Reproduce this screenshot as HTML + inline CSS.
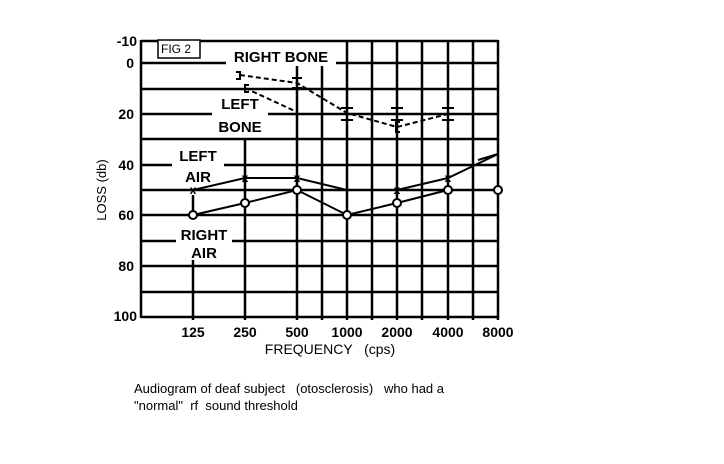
<!DOCTYPE html>
<html><head><style>
body{margin:0;background:#fff;}
svg text{font-family:"Liberation Sans",Arial,sans-serif;font-weight:bold;fill:#000;}
</style></head><body>
<svg width="724" height="459" viewBox="0 0 724 459" xmlns="http://www.w3.org/2000/svg">
<rect width="724" height="459" fill="#fff"/>
<g stroke="#000" stroke-width="2.5" fill="none">
<line x1="141" y1="41" x2="498" y2="41"/>
<line x1="141" y1="63" x2="498" y2="63"/>
<line x1="141" y1="89" x2="498" y2="89"/>
<line x1="141" y1="114" x2="498" y2="114"/>
<line x1="141" y1="139" x2="498" y2="139"/>
<line x1="141" y1="165" x2="498" y2="165"/>
<line x1="141" y1="190" x2="498" y2="190"/>
<line x1="141" y1="215" x2="498" y2="215"/>
<line x1="141" y1="241" x2="498" y2="241"/>
<line x1="141" y1="266" x2="498" y2="266"/>
<line x1="141" y1="292" x2="498" y2="292"/>
<line x1="141" y1="317" x2="498" y2="317"/>
<line x1="141" y1="40" x2="141" y2="318"/>
<line x1="193" y1="195" x2="193" y2="212"/>
<line x1="193" y1="260" x2="193" y2="320"/>
<line x1="245" y1="140" x2="245" y2="320"/>
<line x1="297" y1="63" x2="297" y2="320"/>
<line x1="322" y1="63" x2="322" y2="320"/>
<line x1="347" y1="40" x2="347" y2="320"/>
<line x1="372" y1="40" x2="372" y2="320"/>
<line x1="397" y1="40" x2="397" y2="320"/>
<line x1="422" y1="40" x2="422" y2="320"/>
<line x1="448" y1="40" x2="448" y2="320"/>
<line x1="473" y1="40" x2="473" y2="320"/>
<line x1="498" y1="40" x2="498" y2="320"/>
</g>
<rect x="226" y="46" width="110" height="20" fill="#fff"/>
<rect x="212" y="93" width="56" height="44" fill="#fff"/>
<rect x="172" y="146" width="52" height="40" fill="#fff"/>
<rect x="176" y="224" width="56" height="36" fill="#fff"/>
<rect x="158" y="40" width="42" height="18" fill="#fff" stroke="#000" stroke-width="1.5"/>
<text x="161" y="53" font-size="12" style="font-weight:normal">FIG 2</text>
<g font-size="15" text-anchor="middle">
<text x="281" y="62">RIGHT BONE</text>
<text x="240" y="109">LEFT</text>
<text x="240" y="132">BONE</text>
<text x="198" y="161">LEFT</text>
<text x="198" y="182">AIR</text>
<text x="204" y="240">RIGHT</text>
<text x="204" y="258">AIR</text>
</g>
<g stroke="#000" stroke-width="2" fill="none" stroke-dasharray="5,3">
<polyline points="240,75 297,83 347,113 397,127 448,114"/>
<polyline points="245,88 297,112"/>
</g>
<g stroke="#000" stroke-width="2" fill="none">
<path d="M236,72h4v7h-4"/>
<path d="M249,85h-4v7h4"/>
<path d="M292,78h10M292,88h10M297,78v10"/>
<path d="M341,108h12M341,120h12M347,108v12"/>
<path d="M391,108h12M391,120h12M397,108v12"/>
<path d="M442,108h12M442,120h12M448,108v12"/>
<path d="M400,122h-4v10h4"/>
</g>
<polyline points="193,190 245,178 297,178 347,190" stroke="#000" stroke-width="2" fill="none"/>
<polyline points="397,190 448,178 498,154 498,152" stroke="#000" stroke-width="2" fill="none"/>
<line x1="498" y1="154" x2="478" y2="160" stroke="#000" stroke-width="2"/>
<g font-size="12" text-anchor="middle">
<text x="193" y="194">x</text><text x="245" y="182">x</text><text x="297" y="182">x</text><text x="397" y="194">x</text><text x="448" y="182">x</text>
</g>
<polyline points="193,215 245,203 297,190 347,215 397,203 448,190" stroke="#000" stroke-width="2" fill="none"/>
<g stroke="#000" stroke-width="2" fill="#fff">
<circle cx="193" cy="215" r="4"/><circle cx="245" cy="203" r="4"/><circle cx="297" cy="190" r="4"/>
<circle cx="347" cy="215" r="4"/><circle cx="397" cy="203" r="4"/><circle cx="448" cy="190" r="4"/><circle cx="498" cy="190" r="4"/>
</g>
<g font-size="14" text-anchor="end">
<text x="137" y="46">-10</text><text x="134" y="68">0</text><text x="134" y="119">20</text>
<text x="134" y="170">40</text><text x="134" y="220">60</text><text x="134" y="271">80</text><text x="137" y="321">100</text>
</g>
<text transform="translate(106,190) rotate(-90)" font-size="13" text-anchor="middle" style="font-weight:normal">LOSS  (db)</text>
<g font-size="14" text-anchor="middle">
<text x="193" y="337">125</text><text x="245" y="337">250</text><text x="297" y="337">500</text>
<text x="347" y="337">1000</text><text x="397" y="337">2000</text><text x="448" y="337">4000</text><text x="498" y="337">8000</text>
</g>
<text x="330" y="354" font-size="14" text-anchor="middle" style="font-weight:normal" xml:space="preserve">FREQUENCY   (cps)</text>
<text x="134" y="393" font-size="13" style="font-weight:normal" xml:space="preserve">Audiogram of deaf subject   (otosclerosis)   who had a</text>
<text x="134" y="410" font-size="13" style="font-weight:normal" xml:space="preserve">"normal"  rf  sound threshold</text>
</svg>
</body></html>
